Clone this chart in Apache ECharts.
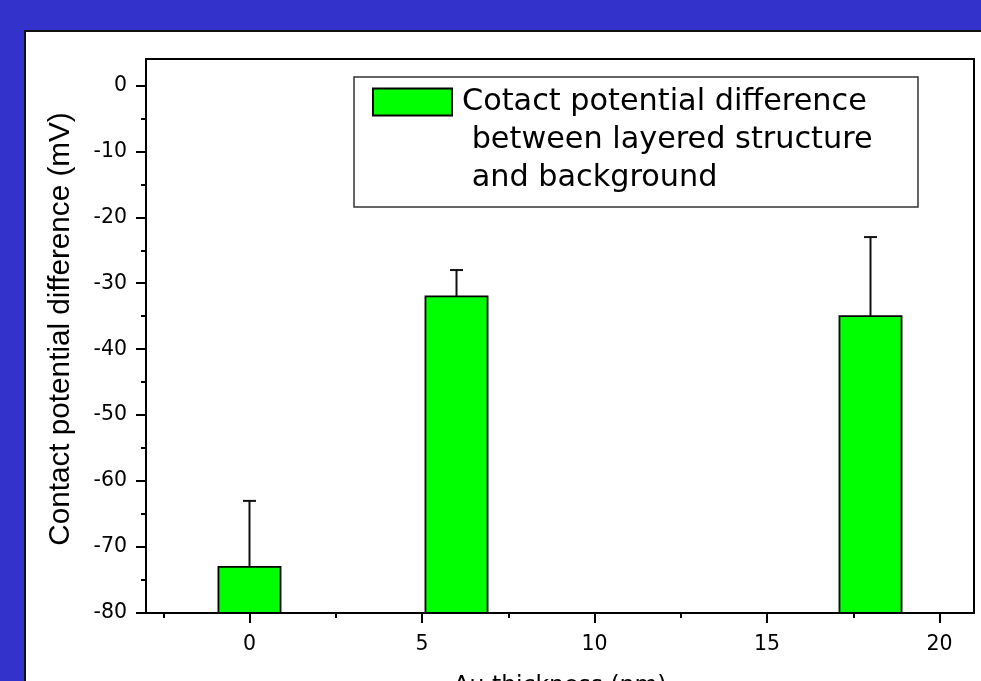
<!DOCTYPE html>
<html>
<head>
<meta charset="utf-8">
<script src="https://cdn.jsdelivr.net/npm/echarts@6/dist/echarts.min.js"></script>
<style>
  html, body { margin:0; padding:0; width:981px; height:681px; overflow:hidden; background:#3333cc; }
  #panel { position:absolute; left:24px; top:30px; width:957px; height:651px; background:#fff;
           border-left:2px solid #111; border-top:2px solid #111; box-sizing:border-box; }
  #chart { position:absolute; left:0; top:0; width:981px; height:681px; }
</style>
</head>
<body>
<div id="panel"></div>
<div id="chart"></div>
<script>
// ---- data ----
const thickness = [0, 6, 18];                 // Au thickness (nm)
const cpd = [-73, -32, -35];                  // contact potential difference (mV)
const cpdErr = [10, 4, 12];                   // upper error (mV)
const xMajorTicks = [0, 5, 10, 15, 20];
const xMinorTicks = [-2.5, 2.5, 7.5, 12.5, 17.5];
const yMajorTicks = [0, -10, -20, -30, -40, -50, -60, -70, -80];
const yMinorTicks = [-5, -15, -25, -35, -45, -55, -65, -75];
const seriesName = 'Cotact potential difference\n between layered structure\n and background';

// ---- style constants ----
const X_MIN = -3, X_MAX = 21, Y_MIN = -80, Y_MAX = 4;
const BAR_W = 1.8;      // bar width in data units
const CAP = 6.5;        // error cap half width (px)
const FONT = 'DejaVu Sans';
const lineStyle = { color: '#000', width: 2 };

const barData = thickness.map((t, i) => [t, cpd[i]]);
const errData = thickness.map((t, i) => [t, cpd[i], cpdErr[i]]);

const chart = echarts.init(document.getElementById('chart'));
const baseX = { type: 'value', min: X_MIN, max: X_MAX, gridIndex: 0, splitLine: { show: false } };
const baseY = { type: 'value', min: Y_MIN, max: Y_MAX, gridIndex: 0, splitLine: { show: false } };

chart.setOption({
  backgroundColor: 'transparent',
  animation: false,
  grid: { left: 146, right: 7, top: 59, bottom: 68, containLabel: false, outerBoundsMode: 'none' },
  legend: {
    left: 372, top: 7, padding: 0, itemWidth: 79, itemHeight: 27, selectedMode: false,
    data: [{ name: seriesName, icon: 'rect' }],
    formatter: function (name) { return '\n\n' + name; },
    textStyle: { fontFamily: FONT, fontSize: 30.3, lineHeight: 38, color: '#000', padding: [0, 0, 0, 5] }
  },
  graphic: [{
    type: 'rect', z: 0, shape: { x: 354, y: 77, width: 564, height: 130 },
    style: { fill: 'none', stroke: '#333', lineWidth: 1.5 }
  }],
  xAxis: [
    Object.assign({}, baseX, {
      position: 'bottom',
      axisLine: { onZero: false, lineStyle },
      axisTick: { customValues: xMajorTicks, length: 10, lineStyle },
      axisLabel: { customValues: xMajorTicks, margin: 21, fontFamily: FONT, fontSize: 20.5, color: '#000' },
      name: 'Au thickness (nm)', nameLocation: 'middle', nameGap: 61,
      nameTextStyle: { fontFamily: FONT, fontSize: 23.5, color: '#000' }
    }),
    Object.assign({}, baseX, {
      position: 'bottom',
      axisLine: { show: false, onZero: false },
      axisTick: { customValues: xMinorTicks, length: 5, lineStyle },
      axisLabel: { show: false }
    }),
    Object.assign({}, baseX, {
      position: 'top',
      axisLine: { onZero: false, lineStyle },
      axisTick: { show: false },
      axisLabel: { show: false }
    })
  ],
  yAxis: [
    Object.assign({}, baseY, {
      position: 'left',
      axisLine: { onZero: false, lineStyle },
      axisTick: { customValues: yMajorTicks, length: 10, lineStyle },
      axisLabel: { customValues: yMajorTicks, margin: 19, fontFamily: FONT, fontSize: 20.5, color: '#000' },
      name: 'Contact potential difference (mV)', nameLocation: 'middle', nameGap: 70,
      nameTextStyle: { fontFamily: 'Liberation Sans', fontSize: 29.7, color: '#000', padding: [0, 0, 0, 14] }
    }),
    Object.assign({}, baseY, {
      position: 'left',
      axisLine: { show: false, onZero: false },
      axisTick: { customValues: yMinorTicks, length: 5, lineStyle },
      axisLabel: { show: false }
    }),
    Object.assign({}, baseY, {
      position: 'right',
      axisLine: { onZero: false, lineStyle },
      axisTick: { show: false },
      axisLabel: { show: false }
    })
  ],
  series: [
    {
      name: seriesName, type: 'custom', xAxisIndex: 0, yAxisIndex: 0,
      itemStyle: { color: '#00ff00', borderColor: '#000', borderWidth: 1.5 },
      encode: { x: 0, y: 1 },
      data: barData,
      renderItem: function (params, api) {
        const x = api.value(0), v = api.value(1);
        const p0 = api.coord([x - BAR_W / 2, v]);
        const p1 = api.coord([x + BAR_W / 2, Y_MIN]);
        return {
          type: 'rect',
          shape: { x: p0[0], y: p0[1], width: p1[0] - p0[0], height: p1[1] - p0[1] },
          style: { fill: '#00ff00', stroke: '#000', lineWidth: 1.8 }
        };
      }
    },
    {
      name: 'error', type: 'custom', xAxisIndex: 0, yAxisIndex: 0, z: 3,
      encode: { x: 0, y: [1, 2] },
      data: errData,
      renderItem: function (params, api) {
        const x = api.value(0), v = api.value(1), e = api.value(2);
        const b = api.coord([x, v]);
        const t = api.coord([x, v + e]);
        const st = { stroke: '#111', lineWidth: 2 };
        return {
          type: 'group',
          children: [
            { type: 'line', shape: { x1: b[0], y1: b[1], x2: t[0], y2: t[1] }, style: st },
            { type: 'line', shape: { x1: t[0] - CAP, y1: t[1], x2: t[0] + CAP, y2: t[1] }, style: st }
          ]
        };
      }
    }
  ]
});
</script>
</body>
</html>
